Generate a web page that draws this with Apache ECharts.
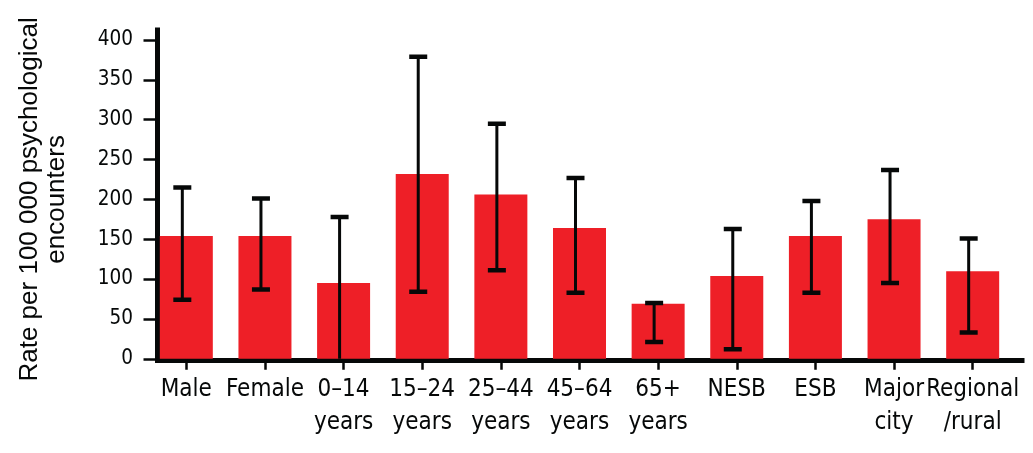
<!DOCTYPE html>
<html>
<head>
<meta charset="utf-8">
<script src="https://cdn.jsdelivr.net/npm/echarts@6/dist/echarts.min.js"></script>
<style>
html,body{margin:0;padding:0;background:#fff;}
#chart{width:1033px;height:453px;}
</style>
</head>
<body>
<div id="chart"></div>
<script>
const categories = ['Male','Female','0–14\nyears','15–24\nyears','25–44\nyears','45–64\nyears','65+\nyears','NESB','ESB','Major\ncity','Regional\n/rural'];
const rates  = [154, 154, 95, 232, 206, 164, 69, 104, 154, 175, 110];
const ciLow  = [74, 87, -5, 84, 111, 83, 21, 12, 83, 95, 33];
const ciHigh = [215, 201, 178, 379, 295, 227, 70, 163, 198, 237, 151];
const yMin = 0, yMax = 400, yStep = 50;
const yTitle = 'Rate per 100 000 psychological\nencounters';

const narrow = "'DejaVu Sans Condensed', 'Liberation Sans', sans-serif";
const ink = '#060808';

const errData = categories.map((c, i) => [i, ciLow[i], ciHigh[i]]);

const chart = echarts.init(document.getElementById('chart'), null, {renderer: 'canvas'});
chart.setOption({
  animation: false,
  backgroundColor: '#ffffff',
  grid: [
    {left: 147, right: 21, top: 40, bottom: 94.2},
    {left: 157.5, right: 11, top: 30, bottom: 92.5}
  ],
  xAxis: [
    {
      type: 'category', gridIndex: 0, data: categories,
      axisLine: {show: false},
      axisTick: {show: true, alignWithLabel: true, length: 11, lineStyle: {color: ink, width: 2.5}},
      axisLabel: {interval: 0, margin: 14, color: ink, fontFamily: narrow, fontSize: 24, lineHeight: 33}
    },
    {
      type: 'value', gridIndex: 1, min: 0, max: 1,
      axisLine: {show: true, lineStyle: {color: ink, width: 5, cap: 'square'}},
      axisTick: {show: false}, axisLabel: {show: false}, splitLine: {show: false}
    }
  ],
  yAxis: [
    {
      type: 'value', gridIndex: 0, min: yMin, max: yMax, interval: yStep, offset: -10.5,
      name: yTitle, nameLocation: 'middle', nameGap: 87, nameRotate: 90,
      nameTextStyle: {color: ink, fontFamily: "'Liberation Sans', Arial, sans-serif", fontSize: 26, lineHeight: 27, align: 'center'},
      axisLine: {show: false},
      axisTick: {show: true, length: 14, lineStyle: {color: ink, width: 2.5}},
      axisLabel: {margin: 24.5, color: ink, fontFamily: narrow, fontSize: 20.5},
      splitLine: {show: false}
    },
    {
      type: 'value', gridIndex: 1, min: 0, max: 1,
      axisLine: {show: true, lineStyle: {color: ink, width: 5, cap: 'square'}},
      axisTick: {show: false}, axisLabel: {show: false}, splitLine: {show: false}
    }
  ],
  series: [
    {
      type: 'bar', xAxisIndex: 0, yAxisIndex: 0, data: rates,
      barWidth: 53, itemStyle: {color: '#EE1F27'}, z: 2
    },
    {
      type: 'custom', xAxisIndex: 0, yAxisIndex: 0, data: errData, clip: true, z: 3,
      renderItem: function (params, api) {
        const idx = api.value(0);
        const lo = api.coord([idx, api.value(1)]);
        const hi = api.coord([idx, api.value(2)]);
        const x = lo[0] - 4;
        const capHalf = 9;
        const st = {stroke: ink, lineWidth: 3};
        const cst = {stroke: ink, lineWidth: 4.5};
        return {
          type: 'group',
          children: [
            {type: 'line', shape: {x1: x, y1: lo[1], x2: x, y2: hi[1]}, style: st},
            {type: 'line', shape: {x1: x - capHalf, y1: hi[1], x2: x + capHalf, y2: hi[1]}, style: cst},
            {type: 'line', shape: {x1: x - capHalf, y1: lo[1], x2: x + capHalf, y2: lo[1]}, style: cst}
          ]
        };
      }
    }
  ]
});
</script>
</body>
</html>
